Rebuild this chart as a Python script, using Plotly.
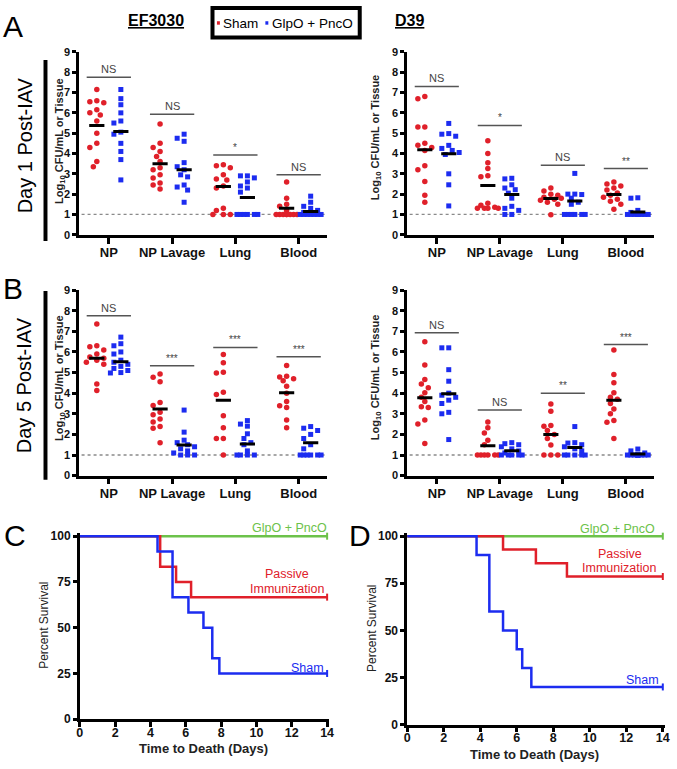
import plotly.graph_objects as go

W, H = 677, 769
FONT = "Liberation Sans, Arial, sans-serif"
RED = "#e0202a"
BLUE = "#1c2cf0"
GREEN = "#6cc24a"

categories = ["NP", "NP Lavage", "Lung", "Blood"]

# ---- Panel A left: EF3030, Day 1 ----
ef_d1_sham = [
    [7.15, 6.6, 6.55, 6.5, 6.15, 6.0, 5.9, 5.6, 5.0, 4.5, 4.3, 3.6, 3.35],
    [5.45, 4.5, 4.3, 4.1, 3.85, 3.6, 3.3, 3.2, 2.95, 2.8, 2.55, 2.45, 2.25],
    [3.45, 3.4, 3.3, 2.95, 2.75, 2.7, 2.4, 2.3, 1.3, 1.2, 1.0, 1.0, 1.0],
    [2.6, 1.8, 1.5, 1.4, 1.2, 1.0, 1.0, 1.0, 1.0, 1.0, 1.0, 1.0, 1.0],
]
ef_d1_glpo = [
    [7.15, 6.7, 6.4, 6.0, 5.6, 5.5, 5.05, 4.95, 4.5, 4.1, 3.7, 2.7],
    [4.95, 4.75, 4.6, 3.55, 3.35, 3.2, 2.95, 2.85, 2.45, 2.35, 2.2, 1.6],
    [2.9, 2.9, 2.8, 2.6, 2.4, 2.3, 2.1, 1.0, 1.0, 1.0, 1.0, 1.0, 1.0],
    [1.9, 1.6, 1.4, 1.3, 1.2, 1.1, 1.0, 1.0, 1.0, 1.0, 1.0, 1.0, 1.0],
]
ef_d1_sham_mean = [5.38, 3.5, 2.37, 1.3]
ef_d1_glpo_mean = [5.08, 3.2, 1.83, 1.14]
ef_d1_sig = ["NS", "NS", "*", "NS"]
ef_d1_sig_y = [7.75, 5.93, 3.92, 2.95]

# ---- Panel A right: D39, Day 1 ----
d39_d1_sham = [
    [6.8, 6.7, 5.3, 5.3, 4.5, 4.4, 4.3, 4.15, 3.4, 3.2, 2.62, 1.95, 1.6],
    [4.63, 4.0, 3.54, 3.26, 2.9, 2.85, 1.55, 1.45, 1.35, 1.3, 1.3, 1.3, 1.3],
    [2.3, 2.15, 2.0, 1.95, 1.85, 1.8, 1.75, 1.7, 1.6, 1.5, 0.98],
    [2.6, 2.5, 2.4, 2.3, 2.2, 2.05, 1.95, 1.85, 1.75, 1.65, 1.5, 1.25],
]
d39_d1_glpo = [
    [5.48, 4.98, 4.95, 4.85, 4.4, 4.25, 4.15, 4.05, 3.95, 3.0, 2.46, 1.42],
    [2.78, 2.75, 2.46, 2.3, 2.22, 2.05, 1.8, 1.4, 1.3, 1.2, 1.0, 1.0],
    [3.02, 2.0, 2.0, 1.98, 1.8, 1.6, 1.5, 1.0, 1.0, 1.0, 1.0, 1.0, 1.0],
    [1.82, 1.8, 1.2, 1.1, 1.0, 1.0, 1.0, 1.0, 1.0, 1.0, 1.0, 1.0, 1.0],
]
d39_d1_sham_mean = [4.18, 2.42, 1.78, 1.98]
d39_d1_glpo_mean = [3.99, 1.98, 1.66, 1.12]
d39_d1_sig = ["NS", "*", "NS", "**"]
d39_d1_sig_y = [7.3, 5.38, 3.42, 3.26]

# ---- Panel B left: EF3030, Day 5 ----
ef_d5_sham = [
    [7.35, 6.3, 6.25, 6.1, 5.9, 5.75, 5.7, 5.6, 5.5, 5.4, 4.45, 4.13],
    [4.93, 4.77, 4.55, 3.55, 3.4, 3.07, 2.95, 2.75, 2.6, 2.38, 2.3, 1.59],
    [5.88, 5.48, 5.02, 4.98, 4.05, 3.94, 2.9, 2.32, 1.8, 1.8, 1.0],
    [5.34, 4.82, 4.78, 4.7, 4.6, 4.34, 4.0, 3.59, 3.39, 3.3, 2.7, 2.32],
]
ef_d5_glpo = [
    [6.72, 6.4, 6.3, 6.0, 5.9, 5.6, 5.5, 5.4, 5.3, 5.2, 5.1, 5.0, 4.98],
    [3.18, 2.11, 1.72, 1.6, 1.5, 1.4, 1.3, 1.2, 1.1, 1.0, 1.0, 1.0],
    [2.67, 2.5, 2.4, 2.03, 1.8, 1.6, 1.5, 1.2, 1.0, 1.0, 1.0, 1.0],
    [2.38, 2.3, 2.19, 2.0, 1.8, 1.5, 1.3, 1.0, 1.0, 1.0, 1.0, 1.0, 1.0],
]
ef_d5_sham_mean = [5.69, 3.23, 3.66, 4.02]
ef_d5_glpo_mean = [5.53, 1.48, 1.53, 1.59]
ef_d5_sig = ["NS", "***", "***", "***"]
ef_d5_sig_y = [7.76, 5.33, 6.22, 5.77]

# ---- Panel B right: D39, Day 5 ----
d39_d5_sham = [
    [6.49, 5.37, 4.66, 4.45, 4.26, 4.02, 3.8, 3.59, 3.34, 3.3, 2.7, 2.51, 1.56],
    [2.6, 2.32, 2.07, 1.72, 1.5, 1.0, 1.0, 1.0, 1.0, 1.0, 1.0],
    [3.47, 3.12, 2.43, 2.4, 2.19, 2.0, 1.8, 1.48, 1.0, 1.0, 1.0],
    [6.09, 4.9, 4.5, 4.02, 3.8, 3.7, 3.5, 3.23, 3.0, 2.67, 2.59, 1.8],
]
d39_d5_glpo = [
    [6.2, 6.2, 5.14, 4.58, 4.0, 3.9, 3.8, 3.66, 3.5, 3.07, 3.0, 1.75],
    [1.6, 1.55, 1.5, 1.4, 1.3, 1.2, 1.1, 1.0, 1.0, 1.0, 1.0, 1.0],
    [2.38, 1.6, 1.58, 1.5, 1.4, 1.3, 1.2, 1.0, 1.0, 1.0, 1.0, 1.0],
    [1.29, 1.2, 1.1, 1.0, 1.0, 1.0, 1.0, 1.0, 1.0, 1.0, 1.0, 1.0, 1.0],
]
d39_d5_sham_mean = [3.78, 1.45, 2.0, 3.66]
d39_d5_glpo_mean = [3.97, 1.21, 1.37, 1.05]
d39_d5_sig = ["NS", "NS", "**", "***"]
d39_d5_sig_y = [6.93, 3.18, 4.0, 6.36]

detection_limit = 1.0

# ---- Survival (C: EF3030, D: D39) ----
c_glpo_t = [0, 14]
c_glpo_s = [100, 100]
c_passive_t = [0, 4.55, 5.45, 6.3, 14]
c_passive_s = [100, 83.3, 75, 66.7, 66.7]
c_sham_t = [0, 4.4, 5.25, 6.15, 7.0, 7.5, 7.9, 14]
c_sham_s = [100, 91.7, 66.7, 58.3, 50, 33.3, 25, 25]

d_glpo_t = [0, 14]
d_glpo_s = [100, 100]
d_passive_t = [0, 5.25, 7.05, 8.75, 14]
d_passive_s = [100, 92.9, 85.7, 78.6, 78.6]
d_sham_t = [0, 3.8, 4.5, 5.25, 6.0, 6.3, 6.8, 14]
d_sham_s = [100, 90, 60, 50, 40, 30, 20, 20]

surv_xticks = [0, 2, 4, 6, 8, 10, 12, 14]
surv_yticks = [0, 25, 50, 75, 100]


def px(x):
    return x / W


def py(y):
    return 1 - y / H


def swarm(vals, center, d=0.055, maxk=3, sx=64.0, sy=20.8, r=5.5):
    placed = []
    xs = [0.0] * len(vals)
    cands = [0.0]
    for k in range(1, maxk + 1):
        cands += [-k * d, k * d]
    order = sorted(range(len(vals)), key=lambda i: -vals[i])
    for i in order:
        best, bestscore = 0.0, -1.0
        for c in cands:
            md = min([(((c - a) * sx) ** 2 + ((vals[i] - b) * sy) ** 2) ** 0.5 for a, b in placed],
                     default=1e9)
            if md >= r:
                best = c
                break
            if md > bestscore:
                bestscore, best = md, c
        placed.append((best, vals[i]))
        xs[i] = center + best
    return xs


fig = go.Figure()
annotations = []
shapes = []

scatter_panels = [
    (1, ef_d1_sham, ef_d1_glpo, ef_d1_sham_mean, ef_d1_glpo_mean, ef_d1_sig, ef_d1_sig_y),
    (2, d39_d1_sham, d39_d1_glpo, d39_d1_sham_mean, d39_d1_glpo_mean, d39_d1_sig, d39_d1_sig_y),
    (3, ef_d5_sham, ef_d5_glpo, ef_d5_sham_mean, ef_d5_glpo_mean, ef_d5_sig, ef_d5_sig_y),
    (4, d39_d5_sham, d39_d5_glpo, d39_d5_sham_mean, d39_d5_glpo_mean, d39_d5_sig, d39_d5_sig_y),
]

OFF = 0.19
for n, sham, glpo, sm, gm, sig, sigy in scatter_panels:
    xa = "x" if n == 1 else f"x{n}"
    ya = "y" if n == 1 else f"y{n}"
    shapes.append(dict(type="line", xref=f"{xa} domain", yref=ya, x0=0.01, x1=0.99,
                       y0=detection_limit, y1=detection_limit,
                       line=dict(color="#8a8a8a", width=1.3, dash="dot"), layer="below"))
    for i, cat in enumerate(categories):
        xs = swarm(sham[i], i - OFF)
        fig.add_trace(go.Scatter(x=xs, y=sham[i], mode="markers", xaxis=xa, yaxis=ya,
                                 marker=dict(color=RED, size=5.5, symbol="circle"),
                                 cliponaxis=False, hoverinfo="skip"))
        xs = swarm(glpo[i], i + OFF)
        fig.add_trace(go.Scatter(x=xs, y=glpo[i], mode="markers", xaxis=xa, yaxis=ya,
                                 marker=dict(color=BLUE, size=5, symbol="square"),
                                 cliponaxis=False, hoverinfo="skip"))
    mx, my = [], []
    for i in range(4):
        for c, m in ((i - OFF, sm[i]), (i + OFF, gm[i])):
            mx += [c - 0.12, c + 0.12, None]
            my += [m, m, None]
    fig.add_trace(go.Scatter(x=mx, y=my, mode="lines", xaxis=xa, yaxis=ya,
                             line=dict(color="black", width=3), hoverinfo="skip"))
    sx, sy = [], []
    for i in range(4):
        sx += [i - 0.35, i + 0.35, None]
        sy += [sigy[i], sigy[i], None]
        annotations.append(dict(xref=xa, yref=ya, x=i, y=sigy[i], text=sig[i],
                                showarrow=False, yanchor="bottom", yshift=0,
                                font=dict(family=FONT, size=11 if sig[i] == "NS" else 10,
                                          color="#444")))
    fig.add_trace(go.Scatter(x=sx, y=sy, mode="lines", xaxis=xa, yaxis=ya,
                             line=dict(color="#555", width=1.5), hoverinfo="skip"))

for n, series in ((5, [(c_glpo_t, c_glpo_s, GREEN), (c_passive_t, c_passive_s, RED),
                       (c_sham_t, c_sham_s, BLUE)]),
                  (6, [(d_glpo_t, d_glpo_s, GREEN), (d_passive_t, d_passive_s, RED),
                       (d_sham_t, d_sham_s, BLUE)])):
    for t, s, col in series:
        fig.add_trace(go.Scatter(x=t, y=s, mode="lines", line_shape="hv",
                                 xaxis=f"x{n}", yaxis=f"y{n}",
                                 line=dict(color=col, width=2.5), hoverinfo="skip"))
        fig.add_trace(go.Scatter(x=[t[-1]], y=[s[-1]], mode="markers",
                                 xaxis=f"x{n}", yaxis=f"y{n}", cliponaxis=False,
                                 marker=dict(symbol="line-ns-open", size=5, color=col,
                                             line=dict(color=col, width=2)),
                                 hoverinfo="skip"))

xs_common = dict(range=[-0.47, 3.45], tickvals=[0, 1, 2, 3], ticktext=categories,
                 showline=True, linecolor="black", linewidth=2.5, ticks="outside",
                 ticklen=6, tickwidth=2.5, tickcolor="black", showgrid=False, zeroline=False,
                 ticklabelstandoff=-2,
                 tickfont=dict(family=FONT, size=13, color="#111", weight="bold"), fixedrange=True)
ys_common = dict(range=[0, 9], tickvals=list(range(10)), showline=True, linecolor="black",
                 linewidth=2.5, ticks="outside", ticklen=4, tickwidth=2.5, tickcolor="black",
                 showgrid=False, zeroline=False,
                 tickfont=dict(family=FONT, size=11, color="#111", weight="bold"), fixedrange=True)

lay = {}
sc_dom = {
    1: ([77, 328], [46.7, 232.7]),
    2: ([409, 659], [46.7, 232.7]),
    3: ([77, 328], [289, 477.7]),
    4: ([409, 659], [289, 477.7]),
}
for n, (xd, yd) in sc_dom.items():
    xk = "xaxis" if n == 1 else f"xaxis{n}"
    yk = "yaxis" if n == 1 else f"yaxis{n}"
    xa = "x" if n == 1 else f"x{n}"
    ya = "y" if n == 1 else f"y{n}"
    lay[xk] = dict(xs_common, domain=[px(xd[0]), px(xd[1])], anchor=ya)
    lay[yk] = dict(ys_common, domain=[py(yd[1]), py(yd[0])], anchor=xa)

surv_x_common = dict(range=[0, 14.1], tickvals=surv_xticks, showline=True, linecolor="black",
                     linewidth=2.5, ticks="outside", ticklen=5, tickwidth=2.5, tickcolor="black",
                     showgrid=False, zeroline=False, ticklabelstandoff=-5,
                     tickfont=dict(family=FONT, size=12.5, color="#111", weight="bold"),
                     fixedrange=True)
surv_y_common = dict(range=[0, 101.5], tickvals=surv_yticks, showline=True, linecolor="black",
                     linewidth=2.5, ticks="outside", ticklen=4, tickwidth=2.5, tickcolor="black",
                     showgrid=False, zeroline=False,
                     tickfont=dict(family=FONT, size=12, color="#111", weight="bold"),
                     fixedrange=True)
x0, x14 = 77.7, 328.0
y0p, y100 = 725.5, 539.3
lay["xaxis5"] = dict(surv_x_common, domain=[px(x0), px(x0 + (x14 - x0) * 14.1 / 14)], anchor="y5")
lay["yaxis5"] = dict(surv_y_common, domain=[py(y0p), py(y0p - (y0p - y100) * 1.015)], anchor="x5")
x0, x14 = 409.0, 667.7
y0p, y100 = 731.0, 539.3
lay["xaxis6"] = dict(surv_x_common, domain=[px(x0), px(x0 + (x14 - x0) * 14.1 / 14)], anchor="y6")
lay["yaxis6"] = dict(surv_y_common, domain=[py(y0p), py(y0p - (y0p - y100) * 1.015)], anchor="x6")


def ann(x, y, text, size, color="black", angle=0, weight="normal", xanchor="center", **kw):
    d = dict(xref="paper", yref="paper", x=px(x), y=py(y), text=text, showarrow=False,
             textangle=angle, xanchor=xanchor, yanchor="middle",
             font=dict(family=FONT, size=size, color=color, weight=weight))
    d.update(kw)
    annotations.append(d)


ann(10, 21, "A", 30)
ann(10, 287, "B", 30)
ann(12, 539, "C", 30)
ann(361, 539, "D", 30)

ann(22, 142, "Day 1 Post-IAV", 20, angle=-90)
ann(22, 386, "Day 5 Post-IAV", 20, angle=-90)
shapes.append(dict(type="rect", xref="paper", yref="paper", x0=px(41), x1=px(45),
                   y0=py(239), y1=py(55), fillcolor="black", line=dict(width=0)))
shapes.append(dict(type="rect", xref="paper", yref="paper", x0=px(41), x1=px(45),
                   y0=py(482), y1=py(290), fillcolor="black", line=dict(width=0)))

ytitle = "Log<sub>10</sub> CFU/mL or Tissue"
ann(57, 137, ytitle, 11, color="#222", angle=-90, weight="bold")
ann(377, 134, ytitle, 11, color="#222", angle=-90, weight="bold")
ann(57, 378, ytitle, 11, color="#222", angle=-90, weight="bold")
ann(377, 378, ytitle, 11, color="#222", angle=-90, weight="bold")

ann(155, 15, "<b><u>EF3030</u></b>", 16)
ann(411, 15, "<b><u>D39</u></b>", 16)
shapes.append(dict(type="rect", xref="paper", yref="paper", x0=px(212), x1=px(361),
                   y0=py(32), y1=py(2), line=dict(color="black", width=4), fillcolor="white"))
shapes.append(dict(type="rect", xref="paper", yref="paper", x0=px(216.5), x1=px(219.5),
                   y0=py(19), y1=py(15.5), fillcolor=RED, line=dict(width=0)))
shapes.append(dict(type="rect", xref="paper", yref="paper", x0=px(265.5), x1=px(268.5),
                   y0=py(19), y1=py(15.5), fillcolor=BLUE, line=dict(width=0)))
ann(221, 17.5, "Sham", 13.5, xanchor="left")
ann(270, 17.5, "GlpO + PncO", 13.5, xanchor="left")

ann(42, 630, "Percent Survival", 12, color="#222", angle=-90)
ann(374, 633, "Percent Survival", 12, color="#222", angle=-90)
ann(203, 755, "Time to Death (Days)", 13, color="#222", weight="bold")
ann(538, 761, "Time to Death (Days)", 13, color="#222", weight="bold")

ann(290, 531, "GlpO + PncO", 12.5, color=GREEN)
ann(287, 578, "Passive", 12.5, color=RED)
ann(287, 593, "Immunization", 12.5, color=RED)
ann(308, 673, "Sham", 12.5, color=BLUE)
ann(622, 532, "GlpO + PncO", 12.5, color=GREEN)
ann(624, 557, "Passive", 12.5, color=RED)
ann(623, 572, "Immunization", 12.5, color=RED)
ann(647, 686, "Sham", 12.5, color=BLUE)

fig.update_layout(
    width=W, height=H, autosize=False,
    margin=dict(l=0, r=0, t=0, b=0),
    paper_bgcolor="white", plot_bgcolor="white",
    showlegend=False,
    annotations=annotations, shapes=shapes,
    **lay,
)

fig.write_html(
    "out.html",
    config={"displayModeBar": False},
    post_script="document.body.style.margin='0';document.body.style.padding='0';"
                "document.documentElement.style.overflow='hidden';",
)
